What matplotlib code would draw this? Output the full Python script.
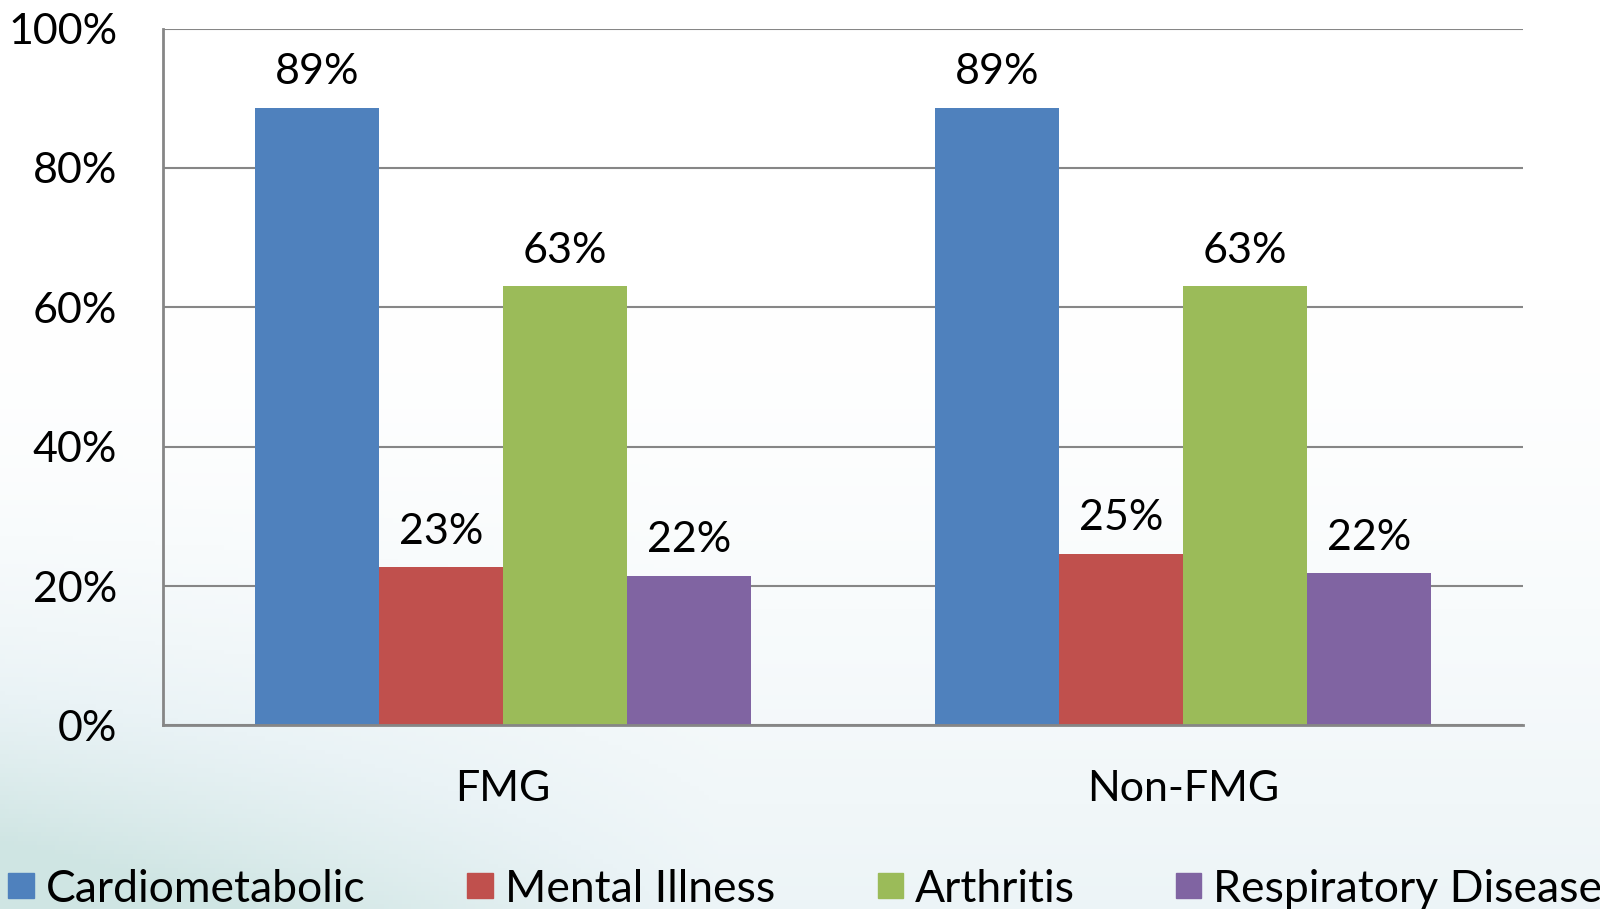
import matplotlib
matplotlib.use("Agg")
import matplotlib.pyplot as plt
import numpy as np
from matplotlib.colors import LinearSegmentedColormap

groups = ["FMG", "Non-FMG"]
series = ["Cardiometabolic", "Mental Illness", "Arthritis", "Respiratory Disease"]
values = {
    "Cardiometabolic": [88.6, 88.6],
    "Mental Illness": [22.7, 24.6],
    "Arthritis": [63.0, 63.0],
    "Respiratory Disease": [21.5, 21.8],
}
labels = {
    "Cardiometabolic": ["89%", "89%"],
    "Mental Illness": ["23%", "25%"],
    "Arthritis": ["63%", "63%"],
    "Respiratory Disease": ["22%", "22%"],
}
colors = ["#4F81BD", "#C0504D", "#9BBB59", "#8064A2"]
yticks = [0, 20, 40, 60, 80, 100]

plt.rcParams['font.family'] = ['Lato', 'DejaVu Sans']

W, H = 1600, 909
fig = plt.figure(figsize=(W / 100, H / 100), dpi=100)

# background gradient: white at top, light teal toward bottom-left
bg = fig.add_axes([0, 0, 1, 1], zorder=-10)
yy, xx = np.mgrid[0:1:200j, 0:1:350j]   # yy=0 at bottom
g = 0.35 * np.clip(1 - yy / 0.7, 0, 1) ** 1.5 + 0.65 * np.clip(1 - yy / 0.55, 0, 1) ** 2 * np.clip(1 - xx / 0.45, 0, 1)
cmap = LinearSegmentedColormap.from_list("bgc", ["#ffffff", "#eaf3f6", "#cfe5e3"])
bg.imshow(g, cmap=cmap, extent=[0, 1, 0, 1], origin="lower", aspect="auto", vmin=0, vmax=0.8)
bg.set_xlim(0, 1)
bg.set_ylim(0, 1)
bg.axis("off")

left, right, top, bottom = 163, 1523, 28.6, 725.4
ax = fig.add_axes([left / W, 1 - bottom / H, (right - left) / W, (bottom - top) / H])
ax.patch.set_alpha(0.0)

FS = 31
x = np.arange(len(groups))
bw = 0.182
for i, s in enumerate(series):
    pos = x + (i - 1.5) * bw
    bars = ax.bar(pos, values[s], width=bw, color=colors[i], zorder=3)
    for b, lab in zip(bars, labels[s]):
        ax.text(b.get_x() + b.get_width() / 2, b.get_height() + 2.4, lab,
                ha="center", va="bottom", fontsize=FS, color="black")

ax.set_xlim(-0.5, 1.5)
ax.set_ylim(0, 100)
ax.set_yticks(yticks)
ax.set_yticklabels([f"{t}%" for t in yticks], fontsize=FS)
ax.set_xticks(x)
ax.set_xticklabels(groups, fontsize=FS)
ax.tick_params(axis="both", length=0)
ax.tick_params(axis="y", pad=33)
ax.tick_params(axis="x", pad=32)
ax.yaxis.grid(True, color="#868686", linewidth=1.5, zorder=1)
for sp in ["top", "right"]:
    ax.spines[sp].set_visible(False)
for sp in ["left", "bottom"]:
    ax.spines[sp].set_color("#868686")
    ax.spines[sp].set_linewidth(2)
    ax.spines[sp].set_zorder(4)

# legend along the bottom edge
s = 1600 / 1568
leg_x = [8, 458, 860, 1152]
sq = 25 * s
yc = H - 868 * s
for i, name in enumerate(series):
    x0 = leg_x[i] * s
    fig.patches.append(plt.Rectangle((x0 / W, (yc - sq / 2) / H), sq / W, sq / H,
                                     transform=fig.transFigure, color=colors[i], zorder=5))
    fig.text((x0 + sq + 12 * s) / W, yc / H, name, fontsize=32, va="center_baseline",
             ha="left", color="black")

fig.savefig("out.png", dpi=100)
